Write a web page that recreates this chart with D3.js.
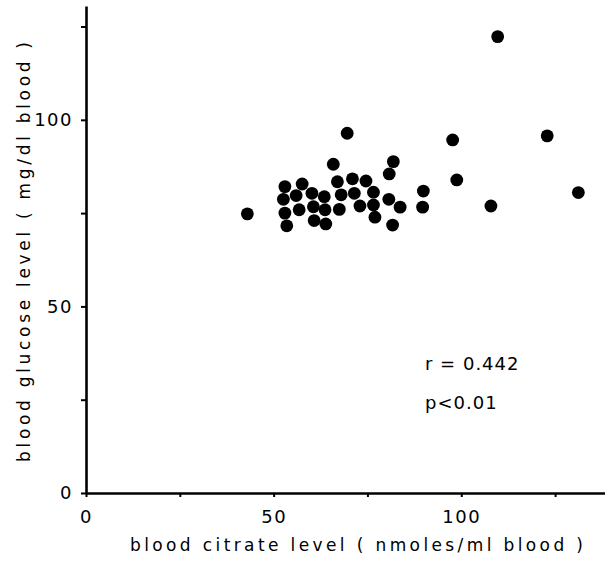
<!DOCTYPE html>
<html>
<head>
<meta charset="utf-8">
<script src="https://cdn.jsdelivr.net/npm/d3@7"></script>
<style>
  body { margin: 0; background: #fff; }
  text { font-family: "DejaVu Sans", sans-serif; fill: #000; }
</style>
</head>
<body>
<script>
// blood citrate (nmoles/ml) vs blood glucose (mg/dl)
var citrate = [43.0, 53.0, 57.6, 52.6, 56.0, 60.2, 63.5, 53.0, 56.8, 60.6,
               63.7, 53.5, 60.8, 63.9, 69.6, 65.9, 81.9, 80.8, 67.0, 71.0,
               74.6, 68.0, 71.5, 76.6, 67.5, 73.0, 76.6, 80.7, 83.7, 89.9,
               89.7, 77.0, 81.7, 109.7, 97.7, 122.9, 98.8, 107.9, 131.2];
var glucose = [74.8, 82.1, 82.8, 78.7, 79.7, 80.3, 79.4, 75.0, 75.9, 76.7,
               75.9, 71.6, 73.0, 72.1, 96.4, 88.1, 88.8, 85.5, 83.4, 84.2,
               83.6, 79.9, 80.3, 80.6, 76.0, 76.9, 77.2, 78.7, 76.6, 80.9,
               76.6, 73.9, 71.8, 122.3, 94.6, 95.7, 83.9, 76.9, 80.5];
var xTicks = [0, 25, 50, 75, 100, 125];
var yTicks = [0, 25, 50, 75, 100, 125];
var xLabelled = [0, 50, 100];
var yLabelled = [0, 50, 100];
var notes = ["r = 0.442", "p<0.01"];

var svg = d3.select("body").append("svg")
    .attr("width", 605)
    .attr("height", 561);

var x = d3.scaleLinear().domain([0, 138.3]).range([86, 605]);
var y = d3.scaleLinear().domain([0, 130.5]).range([493, 6]);

var xAxis = svg.append("g")
    .attr("transform", "translate(0," + y(0) + ")")
    .call(d3.axisBottom(x)
        .tickValues(xTicks)
        .tickSize(4)
        .tickSizeOuter(0)
        .tickPadding(13)
        .tickFormat(function(d) { return xLabelled.indexOf(d) >= 0 ? d : ""; }));

var yAxis = svg.append("g")
    .attr("transform", "translate(" + x(0) + ",0)")
    .call(d3.axisLeft(y)
        .tickValues(yTicks)
        .tickSize(5)
        .tickSizeOuter(0)
        .tickPadding(8)
        .tickFormat(function(d) { return yLabelled.indexOf(d) >= 0 ? d : ""; }));

[xAxis, yAxis].forEach(function(g) {
    g.select(".domain").attr("stroke", "#000").attr("stroke-width", 2.6);
    g.selectAll(".tick line").attr("stroke", "#000").attr("stroke-width", 2);
    g.selectAll(".tick text")
        .style("font-family", "'DejaVu Sans', sans-serif")
        .style("font-size", "18px")
        .style("letter-spacing", "1.5px")
        .attr("fill", "#000");
});

svg.append("g")
  .selectAll("circle")
  .data(citrate)
  .enter().append("circle")
    .attr("cx", function(d) { return x(d); })
    .attr("cy", function(d, i) { return y(glucose[i]); })
    .attr("r", 6.4)
    .attr("fill", "#000");

svg.append("text")
    .attr("x", 130)
    .attr("y", 551)
    .attr("textLength", 453)
    .attr("lengthAdjust", "spacing")
    .style("font-size", "17px")
    .text("blood citrate level ( nmoles/ml blood )");

svg.append("text")
    .attr("transform", "translate(30,462) rotate(-90)")
    .attr("textLength", 420)
    .attr("lengthAdjust", "spacing")
    .style("font-size", "17px")
    .text("blood glucose level ( mg/dl blood )");

svg.append("g")
  .selectAll("text")
  .data(notes)
  .enter().append("text")
    .attr("x", 425)
    .attr("y", function(d, i) { return 370 + i * 39; })
    .style("font-size", "18px")
    .style("letter-spacing", "1px")
    .text(function(d) { return d; });
</script>
</body>
</html>
